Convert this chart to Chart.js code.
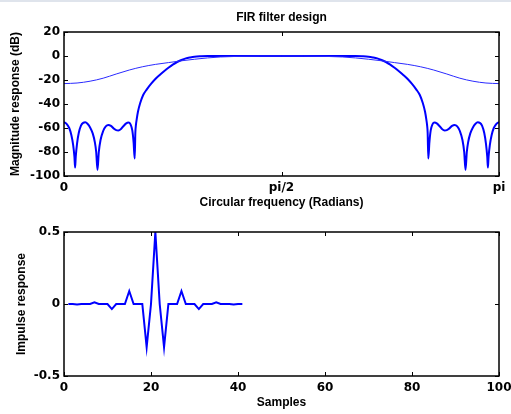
<!DOCTYPE html>
<html>
<head>
<meta charset="utf-8">
<title>FIR filter design</title>
<script src="https://cdn.jsdelivr.net/npm/chart.js@4.4.1/dist/chart.umd.min.js"></script>
<style>
  html, body { margin: 0; padding: 0; background: #fff; }
  body { width: 511px; height: 414px; position: relative; overflow: hidden; }
  .strip { position: absolute; left: 0; top: 0; width: 511px; height: 2px; background: #dfe4ec; z-index: 2; }
  #wrapTop { position: absolute; left: 0; top: 0; width: 511px; height: 210px; }
  #wrapBottom { position: absolute; left: 0; top: 210px; width: 511px; height: 204px; }
</style>
</head>
<body>
<div class="strip"></div>
<div id="wrapTop"><canvas id="magChart" width="511" height="210"></canvas></div>
<div id="wrapBottom"><canvas id="impChart" width="511" height="204"></canvas></div>
<script>
// ── Data (frequency given as a fraction of pi) ───────────
const freqTicks      = [0, 0.5, 1];
const freqTickLabels = ['0', 'pi/2', 'pi'];

// designed bandpass filter, magnitude in dB
const freqSharp = [
  0, 0.006, 0.012, 0.017, 0.021, 0.024, 0.0255, 0.027, 0.030, 0.034,
  0.039, 0.044, 0.049, 0.054, 0.060, 0.066, 0.071, 0.074, 0.077, 0.080,
  0.084, 0.090, 0.096, 0.102, 0.108, 0.114, 0.120, 0.125, 0.131, 0.137,
  0.143, 0.148, 0.153, 0.157, 0.160, 0.1625, 0.164, 0.1655, 0.167, 0.170,
  0.175, 0.182, 0.190, 0.200, 0.210, 0.220, 0.230, 0.240, 0.250, 0.260,
  0.270, 0.280, 0.290, 0.300, 0.315, 0.330, 0.350, 0.400, 0.450, 0.500,
  0.550, 0.600, 0.650, 0.670, 0.685, 0.700, 0.710, 0.720, 0.730, 0.740,
  0.750, 0.760, 0.770, 0.780, 0.790, 0.800, 0.810, 0.818, 0.825, 0.830,
  0.833, 0.8345, 0.836, 0.8375, 0.840, 0.843, 0.847, 0.852, 0.857, 0.863,
  0.869, 0.875, 0.880, 0.886, 0.892, 0.898, 0.904, 0.910, 0.916, 0.920,
  0.923, 0.926, 0.929, 0.934, 0.940, 0.946, 0.951, 0.956, 0.961, 0.966,
  0.970, 0.973, 0.9745, 0.976, 0.979, 0.983, 0.988, 0.994, 1.000
];
const magSharp = [
  -55, -56.5, -60, -66, -74, -84, -93, -84, -73, -64,
  -58, -55.7, -55.3, -56.5, -59.5, -64.5, -72, -80, -95, -80,
  -70, -62.5, -58.7, -57.5, -58.3, -60.3, -61.8, -62, -60.8, -58.3,
  -56.2, -55.5, -57, -62, -72, -85.5, -64, -57, -53, -46.5,
  -39.4, -32.5, -28, -23.3, -19.2, -15.8, -12.7, -9.8, -7.2, -5,
  -3.3, -2, -1.2, -0.6, -0.25, -0.08, 0, 0, 0, 0,
  0, 0, 0, -0.08, -0.25, -0.6, -1.2, -2, -3.3, -5,
  -7.2, -9.8, -12.7, -15.8, -19.2, -23.3, -28, -32.5, -39.4, -46.5,
  -53, -57, -64, -85.5, -72, -62, -57, -55.5, -56.2, -58.3,
  -60.8, -62, -61.8, -60.3, -58.3, -57.5, -58.7, -62.5, -70, -80,
  -95, -80, -72, -64.5, -59.5, -56.5, -55.3, -55.7, -58, -64,
  -73, -84, -93, -84, -74, -66, -60, -56.5, -55
];

// short reference filter, magnitude in dB
const freqWide = [
  0, 0.03, 0.06, 0.09, 0.12, 0.15, 0.18, 0.21, 0.24, 0.27, 0.30,
  0.33, 0.36, 0.40, 0.45, 0.50, 0.55, 0.60, 0.64, 0.67, 0.70,
  0.73, 0.76, 0.79, 0.82, 0.85, 0.88, 0.91, 0.94, 0.97, 1.00
];
const magWide = [
  -23, -22.5, -21, -18.5, -15, -11.7, -9, -7, -5.5, -4, -2.7,
  -1.6, -0.8, -0.3, -0.05, 0, -0.05, -0.3, -0.8, -1.6, -2.7,
  -4, -5.5, -7, -9, -11.7, -15, -18.5, -21, -22.5, -23
];

// impulse response
const sampleIdx = [
  1, 2, 3, 4, 5, 6, 7, 8, 9, 10, 11, 12, 13, 14, 15, 16, 17, 18, 19, 20, 21,
  22, 23, 24, 25, 26, 27, 28, 29, 30, 31, 32, 33, 34, 35, 36, 37, 38, 39, 40, 41
];
const impulse = [
  0, 0, -0.004, 0, 0, 0, 0.012, 0, 0, 0, -0.035, 0, 0, 0, 0.09, 0, 0, 0, -0.30, 0, 0.5,
  0, -0.30, 0, 0, 0, 0.09, 0, 0, 0, -0.035, 0, 0, 0, 0.012, 0, 0, 0, -0.004, 0, 0
];

// ── Styling helpers ──────────────────────────────────────
const LABEL_FONT = { family: '"Liberation Sans", Arial, sans-serif', size: 12, weight: 'bold' };
const TICK_FONT  = { family: '"DejaVu Sans", sans-serif', size: 12, weight: 'bold' };

// MATLAB-like box with inward tick marks on all four sides
const boxTicks = {
  id: 'boxTicks',
  afterDatasetsDraw(chart) {
    const { ctx, chartArea: a, scales: { x, y } } = chart;
    const len = 4;
    ctx.save();
    ctx.strokeStyle = '#000';
    ctx.lineWidth = 1;
    ctx.beginPath();
    x.ticks.forEach(t => {
      const px = Math.round(x.getPixelForValue(t.value)) + 0.5;
      ctx.moveTo(px, a.top);    ctx.lineTo(px, a.top + len);
      ctx.moveTo(px, a.bottom); ctx.lineTo(px, a.bottom - len);
    });
    y.ticks.forEach(t => {
      const py = Math.round(y.getPixelForValue(t.value)) + 0.5;
      ctx.moveTo(a.left, py);  ctx.lineTo(a.left + len, py);
      ctx.moveTo(a.right, py); ctx.lineTo(a.right - len, py);
    });
    ctx.stroke();
    ctx.lineWidth = 1.5;
    ctx.strokeRect(a.left, a.top, a.right - a.left, a.bottom - a.top);
    ctx.restore();
  }
};

function axisBase(extra) {
  return Object.assign({
    type: 'linear',
    grid: { display: false, drawTicks: false },
    border: { display: false },
  }, extra);
}

// keep the plot box fixed: no extra room for overhanging tick labels
function fixX(h) {
  return s => { s.height = h; s.paddingLeft = 0; s.paddingRight = 0; };
}
function fixY(w) {
  return s => { s.width = w; s.paddingTop = 0; s.paddingBottom = 0; };
}

const toPoints = (xs, ys) => xs.map((v, i) => ({ x: v, y: ys[i] }));

// ── Magnitude response ───────────────────────────────────
new Chart(document.getElementById('magChart'), {
  type: 'line',
  data: {
    datasets: [
      {
        data: toPoints(freqWide, magWide),
        borderColor: '#2a2aff',
        borderWidth: 1,
        pointRadius: 0,
        cubicInterpolationMode: 'monotone',
      },
      {
        data: toPoints(freqSharp, magSharp),
        borderColor: '#0000ff',
        borderWidth: 2,
        pointRadius: 0,
        cubicInterpolationMode: 'monotone',
      },
    ],
  },
  options: {
    responsive: false,
    animation: false,
    events: [],
    layout: { padding: { top: 0, right: 12, bottom: 0, left: 0 } },
    scales: {
      x: axisBase({
        min: 0, max: 1,
        afterBuildTicks: s => { s.ticks = freqTicks.map(v => ({ value: v })); },
        afterFit: fixX(34),
        ticks: {
          font: TICK_FONT, color: '#000', padding: 5, maxRotation: 0, autoSkip: false,
          callback: (v, i) => freqTickLabels[i],
        },
        title: { display: true, text: 'Circular frequency (Radians)', font: LABEL_FONT, color: '#000', padding: { top: 0, bottom: 0 } },
      }),
      y: axisBase({
        min: -100, max: 20,
        afterFit: fixY(64),
        ticks: { stepSize: 20, font: TICK_FONT, color: '#000', padding: 4 },
        title: { display: true, text: 'Magnitude response (dB)', font: LABEL_FONT, color: '#000', padding: { top: 8.8, bottom: 0 } },
      }),
    },
    plugins: {
      legend: { display: false },
      tooltip: { enabled: false },
      title: {
        display: true,
        text: 'FIR filter design',
        font: LABEL_FONT,
        color: '#000',
        fullSize: false,
        padding: { top: 10, bottom: 7.6 },
      },
    },
  },
  plugins: [boxTicks],
});

// ── Impulse response ─────────────────────────────────────
new Chart(document.getElementById('impChart'), {
  type: 'line',
  data: {
    datasets: [{
      data: toPoints(sampleIdx, impulse),
      borderColor: '#0000ff',
      borderWidth: 2,
      pointRadius: 0,
      tension: 0,
    }],
  },
  options: {
    responsive: false,
    animation: false,
    events: [],
    layout: { padding: { top: 22, right: 12, bottom: 0, left: 0 } },
    scales: {
      x: axisBase({
        min: 0, max: 100,
        afterFit: fixX(38),
        ticks: { stepSize: 20, font: TICK_FONT, color: '#000', padding: 5, maxRotation: 0 },
        title: { display: true, text: 'Samples', font: LABEL_FONT, color: '#000', padding: { top: 0, bottom: 4 } },
      }),
      y: axisBase({
        min: -0.5, max: 0.5,
        afterFit: fixY(64),
        ticks: { stepSize: 0.5, font: TICK_FONT, color: '#000', padding: 4 },
        title: { display: true, text: 'Impulse response', font: LABEL_FONT, color: '#000', padding: { top: 14, bottom: 0 } },
      }),
    },
    plugins: {
      legend: { display: false },
      tooltip: { enabled: false },
    },
  },
  plugins: [boxTicks],
});
</script>
</body>
</html>
